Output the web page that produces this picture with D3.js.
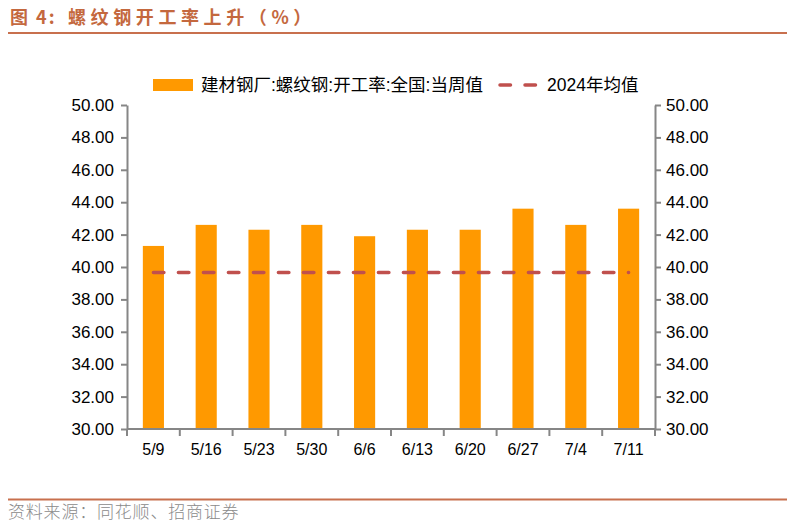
<!DOCTYPE html>
<html>
<head>
<meta charset="utf-8">
<script src="https://cdn.jsdelivr.net/npm/d3@7"></script>
<style>
  body { margin: 0; background: #fff; }
  svg text { font-family: Arial, "Liberation Sans", "Noto Sans CJK SC", sans-serif; }
</style>
</head>
<body>
<div id="chart"></div>
<script>
// data
var weeks = ["5/9", "5/16", "5/23", "5/30", "6/6", "6/13", "6/20", "6/27", "7/4", "7/11"];
var rebarRate = [41.3, 42.6, 42.3, 42.6, 41.9, 42.3, 42.3, 43.6, 42.6, 43.6];
var avg2024 = [39.66, 39.66, 39.66, 39.66, 39.66, 39.66, 39.66, 39.66, 39.66, 39.66];
var yTicks = [30, 32, 34, 36, 38, 40, 42, 44, 46, 48, 50];

var svgWidth = 796;
var svgHeight = 527;

var margin = { top: 105, bottom: 98, left: 127, right: 141 };
var width = svgWidth - margin.left - margin.right;
var height = svgHeight - margin.top - margin.bottom;

var svg = d3.select("#chart")
  .append("svg")
  .attr("width", svgWidth)
  .attr("height", svgHeight);

// title + rules
var titleStyle = function(t) {
  t.attr("y", 24)
    .attr("fill", "#C4683E")
    .attr("font-size", "18px")
    .attr("font-weight", "bold")
    .style("font-family", "'Noto Sans CJK SC', sans-serif");
};
svg.append("text").attr("x", 10).call(titleStyle).style("letter-spacing", "2px").text("图 4:");
svg.append("text").attr("x", 68).call(titleStyle).style("letter-spacing", "4.6px").text("螺纹钢开工率上升（%）");

svg.append("line")
  .attr("x1", 8).attr("x2", 787)
  .attr("y1", 33).attr("y2", 33)
  .attr("stroke", "#C8704E")
  .attr("stroke-width", 2);

svg.append("line")
  .attr("x1", 8).attr("x2", 787)
  .attr("y1", 499.5).attr("y2", 499.5)
  .attr("stroke", "#C8704E")
  .attr("stroke-width", 2);

svg.append("text")
  .attr("x", 8)
  .attr("y", 518)
  .attr("fill", "#8a8a8a")
  .attr("font-size", "17px")
  .style("font-family", "'Noto Sans CJK SC', sans-serif")
  .style("font-weight", 300)
  .style("letter-spacing", "0.8px")
  .text("资料来源：同花顺、招商证券");

var chartGroup = svg.append("g")
  .attr("transform", `translate(${margin.left}, ${margin.top})`);

// scales
var xScale = d3.scaleBand()
  .domain(weeks)
  .range([0, width])
  .paddingInner(0.6)
  .paddingOuter(0.3);

var xAxisScale = d3.scaleBand()
  .domain(weeks)
  .range([0, width]);

var yScale = d3.scaleLinear()
  .domain([30, 50])
  .range([height, 0]);

// axes
var yLeft = d3.axisLeft(yScale).tickValues(yTicks).tickFormat(d3.format(".2f")).tickSize(6).tickSizeOuter(0);
var yRight = d3.axisRight(yScale).tickValues(yTicks).tickFormat(d3.format(".2f")).tickSize(6).tickSizeOuter(0);

var leftG = chartGroup.append("g").call(yLeft);
var rightG = chartGroup.append("g").attr("transform", `translate(${width}, 0)`).call(yRight);

// bars
chartGroup.selectAll(".bar")
  .data(rebarRate)
  .enter()
  .append("rect")
  .attr("class", "bar")
  .attr("x", (d, i) => xScale(weeks[i]))
  .attr("y", d => yScale(d))
  .attr("width", xScale.bandwidth())
  .attr("height", d => height - yScale(d))
  .attr("fill", "#FF9900");

// x axis with ticks at category boundaries
var xG = chartGroup.append("g").attr("transform", `translate(0, ${height})`);
xG.append("line")
  .attr("x1", 0).attr("x2", width)
  .attr("y1", 0).attr("y2", 0)
  .attr("stroke", "#868686").attr("stroke-width", 2);
xG.selectAll(".xtick")
  .data(weeks.concat(["end"]))
  .enter()
  .append("line")
  .attr("x1", (d, i) => i < weeks.length ? xAxisScale(d) : width)
  .attr("x2", (d, i) => i < weeks.length ? xAxisScale(d) : width)
  .attr("y1", 0).attr("y2", 7)
  .attr("stroke", "#868686").attr("stroke-width", 2);
xG.selectAll(".xlabel")
  .data(weeks)
  .enter()
  .append("text")
  .attr("x", d => xAxisScale(d) + xAxisScale.bandwidth() / 2)
  .attr("y", 26)
  .attr("text-anchor", "middle")
  .attr("font-size", "16px")
  .attr("fill", "#000")
  .text(d => d);

[leftG, rightG].forEach(function(g) {
  g.select(".domain").attr("stroke", "#868686").attr("stroke-width", 2);
  g.selectAll(".tick line").attr("stroke", "#868686").attr("stroke-width", 2);
  g.selectAll(".tick text")
    .attr("font-size", "17px")
    .attr("fill", "#000")
    .style("font-family", "Arial, 'Liberation Sans', sans-serif");
});
leftG.selectAll(".tick text").attr("x", -13);
rightG.selectAll(".tick text").attr("x", 11);

// 2024 average dashed line
var line = d3.line()
  .x((d, i) => xAxisScale(weeks[i]) + xAxisScale.bandwidth() / 2)
  .y(d => yScale(d));

chartGroup.append("path")
  .datum(avg2024)
  .attr("d", line)
  .attr("fill", "none")
  .attr("stroke", "#C0504D")
  .attr("stroke-width", 3.5)
  .attr("stroke-linecap", "round")
  .attr("stroke-dasharray", "10.5,14.5");

// legend
var legend = svg.append("g").attr("transform", "translate(0, 85)");
legend.append("rect")
  .attr("x", 153).attr("y", -6)
  .attr("width", 40).attr("height", 12)
  .attr("fill", "#FF9900");
legend.append("text")
  .attr("x", 201).attr("y", 6)
  .attr("font-size", "17.5px")
  .attr("fill", "#000")
  .text("建材钢厂:螺纹钢:开工率:全国:当周值");
legend.append("line")
  .attr("x1", 500).attr("x2", 538)
  .attr("y1", 0).attr("y2", 0)
  .attr("stroke", "#C0504D")
  .attr("stroke-width", 3.5)
  .attr("stroke-linecap", "round")
  .attr("stroke-dasharray", "10.5,14.5");
legend.append("text")
  .attr("x", 547).attr("y", 6)
  .attr("font-size", "17.5px")
  .attr("fill", "#000")
  .text("2024年均值");
</script>
</body>
</html>
